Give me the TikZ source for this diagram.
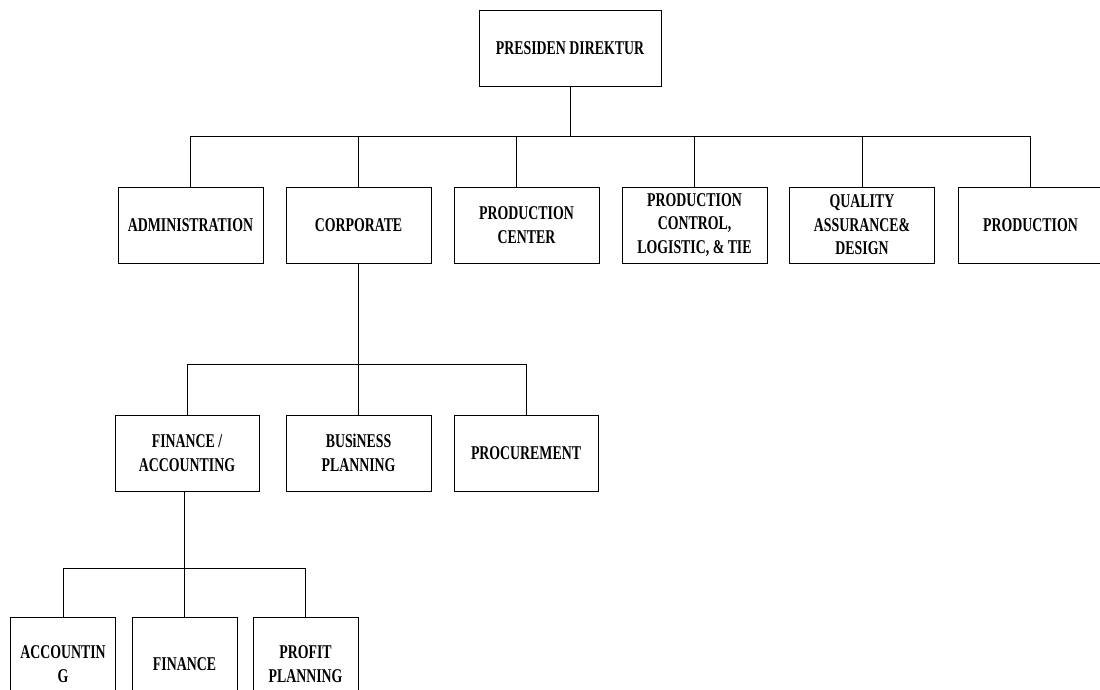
\documentclass[tikz,border=0pt]{standalone}
\usepackage{fontspec}
\setmainfont{Liberation Serif}[FakeStretch=0.71]
\usepackage{tikz}
\usetikzlibrary{positioning, calc}

\tikzset{
    unitbox/.style={draw, line width=0.9pt, minimum width=145pt, minimum height=76pt,
        align=center, inner sep=2pt, font=\bfseries},
    link/.style={line width=0.8pt}
}

\begin{document}
\begin{tikzpicture}[x=1pt, y=-1pt]
    \fontsize{19.5}{23.5}\selectfont
    \useasboundingbox (0,0) rectangle (1100,690);
    \clip (0,0) rectangle (1100,690);

    % Top level
    \node[unitbox, minimum width=182pt] (presdir) at (570,48) {PRESIDEN DIREKTUR};

    % Directorates
    \node[unitbox] (admin) at (190.5,225) {ADMINISTRATION};
    \node[unitbox] (corp) at (358.5,225) {CORPORATE};
    \node[unitbox] (prodcen) at (526.5,225) {PRODUCTION\\CENTER};
    \node[unitbox] (prodctl) at (694.5,225) {PRODUCTION\\CONTROL,\\LOGISTIC, \& TIE};
    \node[unitbox] (qadesign) at (862,225) {QUALITY\\ASSURANCE\&\\DESIGN};
    \node[unitbox] (prod) at (1030.5,225) {PRODUCTION};

    % Corporate departments
    \node[unitbox, minimum width=144pt] (finacc) at (187,453) {FINANCE /\\ACCOUNTING};
    \node[unitbox] (bizplan) at (358.5,453) {BUSiNESS\\PLANNING};
    \node[unitbox, minimum width=144pt] (procure) at (526,453) {PROCUREMENT};

    % Finance sections (cut by the lower edge)
    \node[unitbox, minimum width=105pt, minimum height=94pt] (acct) at (63,664) {ACCOUNTIN\\G};
    \node[unitbox, minimum width=105pt, minimum height=94pt] (fin) at (184.5,664) {FINANCE};
    \node[unitbox, minimum width=105pt, minimum height=94pt] (profit) at (305.5,664) {PROFIT\\PLANNING};

    % Bus lines
    \coordinate (busA) at (570,136.5);
    \coordinate (busB) at (358.5,364);
    \coordinate (busC) at (184.5,568);

    \draw[link] (presdir.south) -- (busA);
    \foreach \unit in {admin, corp, qadesign, prod, prodctl}
        \draw[link] (busA) -| (\unit.north);
    \draw[link] (busA) -| ([xshift=-10.5pt]prodcen.north);

    \draw[link] (corp.south) -- (busB);
    \foreach \unit in {finacc, bizplan, procure}
        \draw[link] (busB) -| (\unit.north);

    \draw[link] ([xshift=-2.5pt]finacc.south) -- (busC);
    \foreach \unit in {acct, fin, profit}
        \draw[link] (busC) -| (\unit.north);
\end{tikzpicture}
\end{document}
